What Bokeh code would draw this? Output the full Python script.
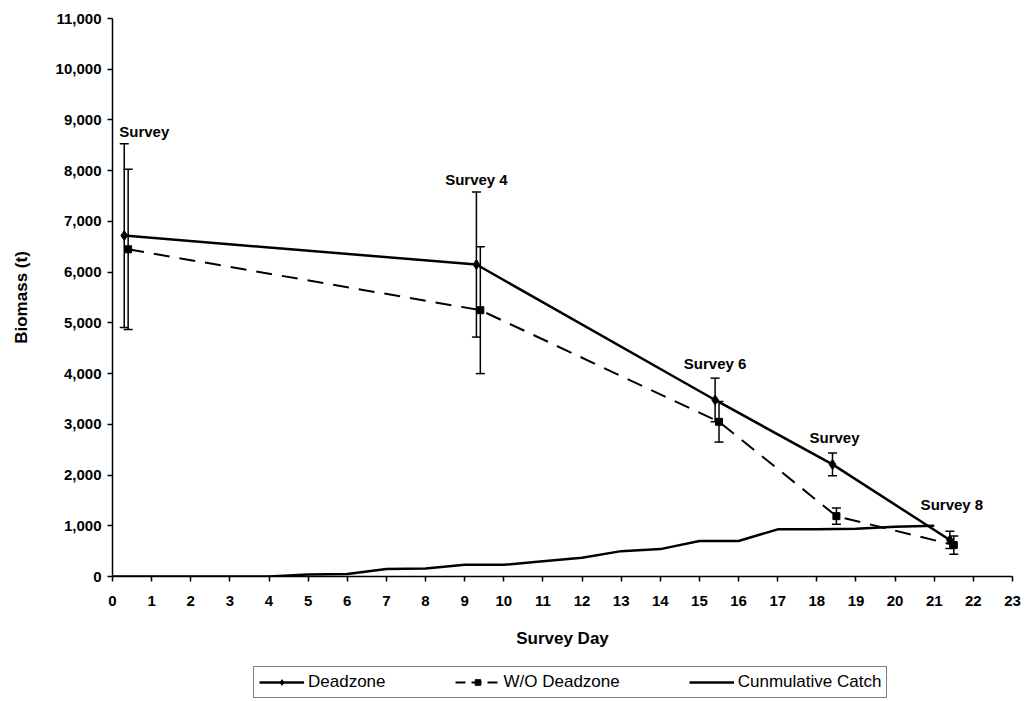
from bokeh.plotting import figure
from bokeh.layouts import column
from bokeh.models import (ColumnDataSource, Whisker, TeeHead, Legend, LegendItem,
                          NumeralTickFormatter, FixedTicker, Range1d)
from bokeh.core.properties import value
from bokeh.embed import file_html
from bokeh.resources import INLINE

# ---- data ----
dz_day = [0.3, 9.3, 15.4, 18.4, 21.4]
dz_biomass = [6720, 6150, 3480, 2210, 720]
dz_err = [1810, 1430, 430, 225, 170]

wo_day = [0.4, 9.4, 15.5, 18.5, 21.5]
wo_biomass = [6450, 5250, 3050, 1190, 620]
wo_err = [1580, 1250, 400, 160, 180]

catch_day = list(range(0, 22))
catch_biomass = [0, 0, 0, 0, 0, 40, 50, 150, 160, 230, 230, 300, 370, 500, 540,
                 700, 700, 930, 930, 940, 980, 1000]

survey_labels = ["Survey", "Survey 4", "Survey 6", "Survey", "Survey 8"]
label_dx = [20, 0, 0, 2, 2]
label_dy = [-4, -4, -6, -7, -18]

x_ticks = list(range(0, 24))
y_ticks = list(range(0, 12000, 1000))

FONT = "Liberation Sans"

p = figure(width=1027, height=650, output_backend="svg", toolbar_location=None,
           x_range=Range1d(0, 23), y_range=Range1d(0, 11000),
           min_border_left=112, min_border_right=15, min_border_top=18,
           min_border_bottom=73)
p.outline_line_color = None
p.grid.grid_line_color = None
p.background_fill_color = "white"

for ax in (p.xaxis, p.yaxis):
    ax.axis_line_color = "black"
    ax.axis_line_width = 1.5
    ax.major_tick_line_width = 1.5
    ax.major_tick_line_color = "black"
    ax.major_tick_in = 0
    ax.major_tick_out = 5
    ax.minor_tick_line_color = None
    ax.major_label_text_font = FONT
    ax.major_label_text_font_style = "bold"
    ax.major_label_text_font_size = "15px"
    ax.major_label_text_color = "black"
    ax.axis_label_text_font = FONT
    ax.axis_label_text_font_style = "bold"
    ax.axis_label_text_font_size = "17px"
    ax.axis_label_text_color = "black"

p.xaxis.ticker = FixedTicker(ticks=x_ticks)
p.yaxis.ticker = FixedTicker(ticks=y_ticks)
p.yaxis.formatter = NumeralTickFormatter(format="0,0")
p.xaxis.axis_label = "Survey Day"
p.yaxis.axis_label = "Biomass (t)"
p.xaxis.major_label_standoff = 14
p.xaxis.axis_label_standoff = 20
p.yaxis.major_label_standoff = 6
p.yaxis.axis_label_standoff = 22

dz_src = ColumnDataSource(dict(x=dz_day, y=dz_biomass,
                               up=[b + e for b, e in zip(dz_biomass, dz_err)],
                               lo=[b - e for b, e in zip(dz_biomass, dz_err)],
                               lab=survey_labels, dx=label_dx, dy=label_dy))
wo_src = ColumnDataSource(dict(x=wo_day, y=wo_biomass,
                               up=[b + e for b, e in zip(wo_biomass, wo_err)],
                               lo=[b - e for b, e in zip(wo_biomass, wo_err)]))
catch_src = ColumnDataSource(dict(x=catch_day, y=catch_biomass))

# catch line
p.line("x", "y", source=catch_src, line_color="black", line_width=2.5)

# error bars
for src in (dz_src, wo_src):
    w = Whisker(base="x", upper="up", lower="lo", source=src,
                line_color="black", line_width=1.5,
                upper_head=TeeHead(size=9, line_width=1.5, line_color="black"),
                lower_head=TeeHead(size=9, line_width=1.5, line_color="black"))
    p.add_layout(w)

p.line("x", "y", source=dz_src, line_color="black", line_width=2.5)
p.scatter("x", "y", source=dz_src, marker="diamond", size=10,
          fill_color="black", line_color="black")
p.line("x", "y", source=wo_src, line_color="black", line_width=2, line_dash="16 10")
p.scatter("x", "y", source=wo_src, marker="square", size=7,
          fill_color="black", line_color="black")

p.text(x="x", y="up", text="lab", source=dz_src, x_offset="dx", y_offset="dy",
       text_align="center", text_baseline="bottom",
       text_font=value(FONT), text_font_size="15px", text_font_style="bold",
       text_color="black")

# ---- legend strip below the chart (its glyphs sit outside its visible range) ----
lf = figure(width=1027, height=51, output_backend="svg", toolbar_location=None,
            x_range=Range1d(0, 1), y_range=Range1d(-20, -10),
            x_axis_type=None, y_axis_type=None,
            min_border_left=112, min_border_right=15, min_border_top=0,
            min_border_bottom=0)
lf.outline_line_color = None
lf.grid.grid_line_color = None
l_dz = lf.line("x", "y", source=dz_src, line_color="black", line_width=2.5)
m_dz = lf.scatter("x", "y", source=dz_src, marker="diamond", size=10,
                  fill_color="black", line_color="black")
l_wo = lf.line("x", "y", source=wo_src, line_color="black", line_width=2,
               line_dash="10 6")
m_wo = lf.scatter("x", "y", source=wo_src, marker="square", size=7,
                  fill_color="black", line_color="black")
l_ca = lf.line("x", "y", source=catch_src, line_color="black", line_width=2.5)

legend = Legend(items=[
    LegendItem(label="Deadzone", renderers=[l_dz, m_dz]),
    LegendItem(label="W/O Deadzone", renderers=[l_wo, m_wo]),
    LegendItem(label="Cunmulative Catch", renderers=[l_ca]),
], orientation="horizontal", location=(141, 3))
legend.label_text_font = FONT
legend.label_text_font_size = "17px"
legend.label_text_color = "black"
legend.border_line_color = "black"
legend.border_line_width = 1.5
legend.background_fill_alpha = 1
legend.glyph_width = 45
legend.glyph_height = 14
legend.padding = 5
legend.spacing = 69
legend.label_standoff = 4
legend.margin = 0
lf.add_layout(legend, "center")

layout = column(p, lf, spacing=0)
open("out.html", "w").write(file_html(layout, INLINE))
